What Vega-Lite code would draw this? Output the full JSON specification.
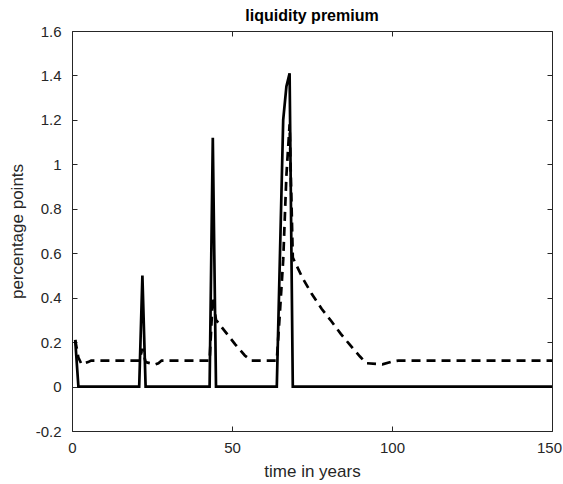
{
  "$schema": "https://vega.github.io/schema/vega-lite/v6.json",
  "width": 480,
  "height": 400,
  "autosize": "none",
  "padding": {"left": 72, "top": 31, "right": 11, "bottom": 53},
  "background": "white",
  "title": {"text": "liquidity premium", "font": "Liberation Sans", "fontSize": 16, "fontWeight": "bold", "color": "#000000", "anchor": "middle", "baseline": "alphabetic", "offset": -13, "frame": "group"},
  "config": {
    "view": {"stroke": null},
    "axis": {
      "grid": false,
      "domainColor": "#262626",
      "domainWidth": 1,
      "tickColor": "#262626",
      "tickWidth": 1,
      "tickSize": -5,
      "labelFont": "Liberation Sans",
      "labelFontSize": 15,
      "labelColor": "#262626",
      "titleFont": "Liberation Sans",
      "titleFontSize": 17,
      "titleFontWeight": "normal",
      "titleColor": "#262626"
    }
  },
  "data": {
    "values": [
      {"t": 1, "v": 0.21, "s": "solid"},
      {"t": 2, "v": 0, "s": "solid"},
      {"t": 21, "v": 0, "s": "solid"},
      {"t": 22, "v": 0.5, "s": "solid"},
      {"t": 23, "v": 0, "s": "solid"},
      {"t": 43, "v": 0, "s": "solid"},
      {"t": 44, "v": 1.12, "s": "solid"},
      {"t": 45, "v": 0, "s": "solid"},
      {"t": 64, "v": 0, "s": "solid"},
      {"t": 65, "v": 0.6, "s": "solid"},
      {"t": 66, "v": 1.2, "s": "solid"},
      {"t": 67, "v": 1.35, "s": "solid"},
      {"t": 68, "v": 1.41, "s": "solid"},
      {"t": 69, "v": 0, "s": "solid"},
      {"t": 150, "v": 0, "s": "solid"},
      {"t": 1, "v": 0.21, "s": "dashed"},
      {"t": 2, "v": 0.13, "s": "dashed"},
      {"t": 3, "v": 0.1, "s": "dashed"},
      {"t": 4, "v": 0.105, "s": "dashed"},
      {"t": 5, "v": 0.11, "s": "dashed"},
      {"t": 6, "v": 0.117, "s": "dashed"},
      {"t": 21, "v": 0.117, "s": "dashed"},
      {"t": 22, "v": 0.17, "s": "dashed"},
      {"t": 23, "v": 0.11, "s": "dashed"},
      {"t": 26, "v": 0.1, "s": "dashed"},
      {"t": 27, "v": 0.105, "s": "dashed"},
      {"t": 28, "v": 0.117, "s": "dashed"},
      {"t": 43, "v": 0.117, "s": "dashed"},
      {"t": 44, "v": 0.4, "s": "dashed"},
      {"t": 45, "v": 0.3, "s": "dashed"},
      {"t": 48, "v": 0.245, "s": "dashed"},
      {"t": 51, "v": 0.19, "s": "dashed"},
      {"t": 54, "v": 0.14, "s": "dashed"},
      {"t": 56, "v": 0.117, "s": "dashed"},
      {"t": 64, "v": 0.117, "s": "dashed"},
      {"t": 65, "v": 0.34, "s": "dashed"},
      {"t": 66, "v": 0.57, "s": "dashed"},
      {"t": 67, "v": 0.95, "s": "dashed"},
      {"t": 68, "v": 1.18, "s": "dashed"},
      {"t": 69, "v": 0.58, "s": "dashed"},
      {"t": 72, "v": 0.49, "s": "dashed"},
      {"t": 75, "v": 0.415, "s": "dashed"},
      {"t": 78, "v": 0.35, "s": "dashed"},
      {"t": 81, "v": 0.295, "s": "dashed"},
      {"t": 84, "v": 0.237, "s": "dashed"},
      {"t": 87, "v": 0.185, "s": "dashed"},
      {"t": 90, "v": 0.135, "s": "dashed"},
      {"t": 92, "v": 0.105, "s": "dashed"},
      {"t": 97, "v": 0.1, "s": "dashed"},
      {"t": 100, "v": 0.112, "s": "dashed"},
      {"t": 102, "v": 0.117, "s": "dashed"},
      {"t": 150, "v": 0.117, "s": "dashed"}
    ]
  },
  "layer": [
    {
      "transform": [{"filter": "datum.s === 'solid'"}],
      "mark": {"type": "line", "color": "#000000", "strokeWidth": 2.7, "clip": true},
      "encoding": {
        "x": {"field": "t", "type": "quantitative", "scale": {"domain": [0, 150], "nice": false, "zero": false},
          "axis": {"orient": "bottom", "values": [0, 50, 100, 150], "labelBaseline": "top", "labelPadding": 14, "labelFlush": false, "labelOffset": {"condition": {"test": "datum.value === 150", "value": -3}, "value": 0}, "title": "time in years", "titleY": 45, "titleBaseline": "alphabetic"}},
        "y": {"field": "v", "type": "quantitative", "scale": {"domain": [-0.2, 1.6], "nice": false, "zero": false},
          "axis": {"orient": "left", "values": [-0.2, 0, 0.2, 0.4, 0.6, 0.8, 1, 1.2, 1.4, 1.6], "labelExpr": "'' + datum.value", "labelPadding": 16, "labelFlush": false, "labelBaseline": "middle", "title": "percentage points", "titleX": -55, "titleBaseline": "middle"}}
      }
    },
    {
      "transform": [{"filter": "datum.s === 'dashed'"}],
      "mark": {"type": "line", "color": "#000000", "strokeWidth": 2.7, "strokeDash": [9, 6], "clip": true},
      "encoding": {
        "x": {"field": "t", "type": "quantitative", "axis": {"orient": "top", "values": [0, 50, 100, 150], "labels": false, "title": null}},
        "y": {"field": "v", "type": "quantitative", "axis": {"orient": "right", "values": [-0.2, 0, 0.2, 0.4, 0.6, 0.8, 1, 1.2, 1.4, 1.6], "labels": false, "title": null}}
      }
    }
  ],
  "resolve": {"axis": {"x": "independent", "y": "independent"}}
}
